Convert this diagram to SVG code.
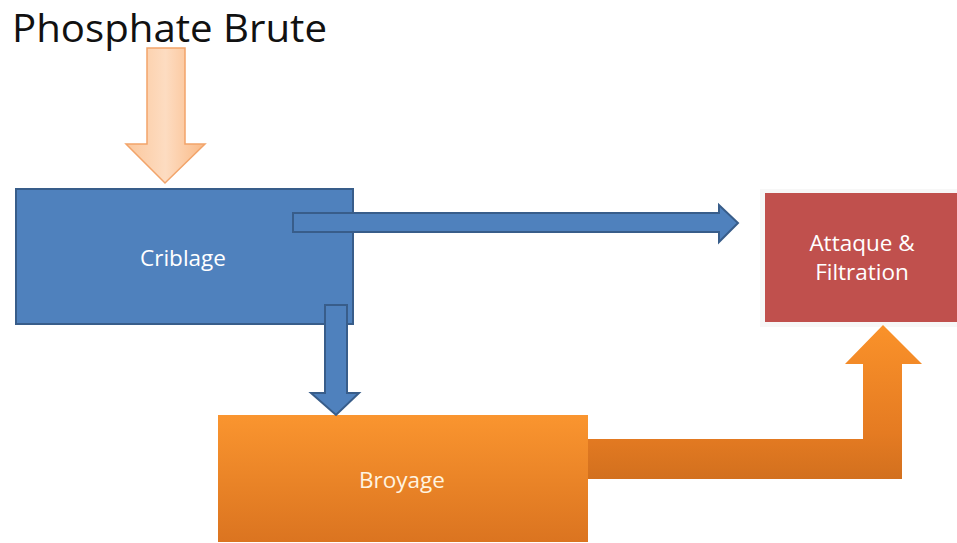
<svg xmlns="http://www.w3.org/2000/svg" width="957" height="543" viewBox="0 0 957 543">
<defs>
<linearGradient id="orgV" x1="0" y1="0" x2="0" y2="1">
<stop offset="0" stop-color="#FA952F"/>
<stop offset="1" stop-color="#DB7420"/>
</linearGradient>
<linearGradient id="orgArrow" gradientUnits="userSpaceOnUse" x1="0" y1="325" x2="0" y2="479">
<stop offset="0" stop-color="#FA922A"/>
<stop offset="0.7" stop-color="#E57B22"/>
<stop offset="1" stop-color="#D2701E"/>
</linearGradient>
<linearGradient id="peach" x1="0" y1="0" x2="1" y2="0">
<stop offset="0" stop-color="#FBC79C"/>
<stop offset="0.5" stop-color="#FDDCC1"/>
<stop offset="1" stop-color="#FAB985"/>
</linearGradient>
</defs>
<style>
.lbl{font-family:"Open Sans","Liberation Sans",sans-serif;font-size:22.5px;fill:#ffffff;text-anchor:middle}
.blue{fill:#4F81BD;stroke:#385D8A;stroke-width:2}
</style>
<rect width="957" height="543" fill="#ffffff"/>
<text x="12" y="42" font-family="Open Sans, Liberation Sans, sans-serif" font-size="38" fill="#111111" textLength="315" lengthAdjust="spacingAndGlyphs">Phosphate Brute</text>

<g id="attaque">
<rect x="760" y="189" width="200" height="138" fill="#F7F7F7"/>
<rect x="765" y="193" width="195" height="129" fill="#C0504D"/>
<text class="lbl" x="862" y="251">Attaque &amp;</text>
<text class="lbl" x="862" y="280">Filtration</text>
</g>

<g id="criblage">
<rect class="blue" x="16" y="189" width="337" height="135"/>
<text class="lbl" x="183" y="266">Criblage</text>
</g>

<g id="broyage">
<rect x="218" y="415" width="370" height="127" fill="url(#orgV)"/>
<text class="lbl" x="402" y="488" style="fill:#FFF4E0">Broyage</text>
</g>

<g id="connectors">
<path d="M147,48 L185,48 L185,144 L205,144 L165,183 L126,144 L147,144 Z" fill="url(#peach)" stroke="#F2A46A" stroke-width="1.5"/>
<path class="blue" d="M293,213 L719,213 L719,205 L738,223 L719,242 L719,232 L293,232 Z"/>
<path class="blue" d="M325,305 L347,305 L347,393 L359,393 L336,415 L311,393 L325,393 Z"/>
<path d="M588,439 L863,439 L863,364 L845,364 L883,325 L922,364 L902,364 L902,479 L588,479 Z" fill="url(#orgArrow)"/>
</g>
</svg>
